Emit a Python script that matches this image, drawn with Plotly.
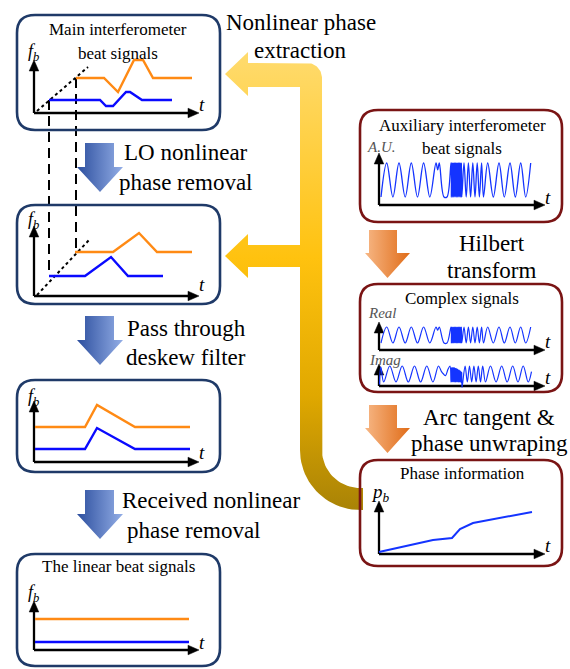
import numpy as np
import plotly.graph_objects as go

W, H = 570, 669
FONT = "Liberation Serif"

# ---------------- data (chart units) ----------------
# Main interferometer beat signals
main_orange_t = [42, 70, 84, 100, 109, 119, 158]
main_orange_f = [35, 35, 21, 53, 53, 35, 35]
main_blue_t = [15, 66, 72, 79, 92, 96, 108, 138]
main_blue_f = [13, 13, 7, 7, 21, 21, 13, 13]
main_lo_t = [3, 54]
main_lo_f = [2, 46]

# After LO nonlinear phase removal
lo_orange_t = [41, 79, 105, 123, 158]
lo_orange_f = [44, 44, 63, 44, 44]
lo_blue_t = [15, 51, 77, 94, 129]
lo_blue_f = [20, 20, 39, 20, 20]
lo_lo_t = [3, 56]
lo_lo_f = [1, 57]

# After deskew filter
deskew_t = [1, 51, 63, 101, 156]
deskew_orange_f = [35, 35, 57, 35, 35]
deskew_blue_f = [13, 13, 34, 13, 13]

# The linear beat signals
linear_t = [1, 155]
linear_orange_f = [31, 31]
linear_blue_f = [8, 8]

# Auxiliary interferometer beat signal (extrema, normalised amplitude)
aux_t = [2, 7.7, 13.9, 20, 26.2, 32.3, 38.5, 44.6, 50.8, 57, 58.7, 60.3, 65, 68,
         72.0, 72.4, 72.8, 73.2, 73.6, 74.0, 74.4, 74.8, 75.2, 75.6, 76.0, 76.4, 76.8, 77.2,
         77.6, 78.0, 78.4, 78.8, 79.2, 79.6, 80.0, 80.4, 80.8, 81.2, 81.6, 82.0, 82.4, 82.8,
         85.0, 87.2, 89.4, 91.6, 93.8, 96.0, 98.2, 100.4, 102.6, 104.5,
         108.7, 114.3, 120, 125.3, 131, 136.3, 141.7, 146.7, 151.7]
aux_v = [-1, 1, -1, 1, -1, 1, -1, 1, -1, 1, 0.6, 1, -1, -1,
         1, -1, 1, -1, 1, -1, 1, -1, 1, -1, 1, -1, 1, -1,
         1, -1, 1, -1, 1, -1, 1, -1, 1, -1, 1, -1, 1, -1,
         1, -1, 1, -1, 1, -1, 1, -1, 1, -1,
         1, -1, 1, -1, 1, -1, 1, -1, 1]

# Complex signal, imaginary part (extrema, normalised amplitude)
imag_t = [0.5, 1.8, 4.7, 10.8, 17, 23.2, 29.3, 35.5, 41.6, 47.8, 53.9, 59.5, 62.5, 64.5, 66.5, 69, 71,
          72.0, 72.4, 72.8, 73.2, 73.6, 74.0, 74.4, 74.8, 75.2, 75.6, 76.0, 76.4, 76.8, 77.2,
          77.6, 78.0, 78.4, 78.8, 79.2, 79.6, 80.0, 80.4, 80.8, 81.2, 81.6, 82.0, 82.4, 82.7, 83.0,
          86.1, 88.3, 90.5, 92.7, 94.9, 97.1, 99.3, 101.5, 103.7,
          106.5, 111.5, 117.1, 122.7, 128.2, 133.7, 139, 144.2, 149.2, 152.5]
imag_v = [-1.3, 0.9, -1, 1, -1, 1, -1, 1, -1, 1, -1, 1, 0.3, 0.0, -0.2, 0.6, 1.0,
          -1, 0.8, -1, 0.8, -1, 0.8, -1, 0.8, -1, 0.8, -1, 0.7, -1, 0.7,
          -1, 0.6, -1, 0.6, -1, 0.5, -1, 0.5, -1, 0.4, -1, 0.3, -1.1, 0.2, -1.7,
          1, -1, 1, -1, 1, -1, 1, -1, 1,
          -1, 1, -1, 1, -1, 1, -1, 1, -1, 0.3]

# Phase information
phase_t = [0, 54, 73, 81, 94, 153]
phase_p = [2, 14, 16, 25, 31, 42]

ORANGE = "#FF8A14"
BLUE = "#0A0AFF"
SIG = "#1434FF"
NAVY = "#1F3A68"
DRED = "#7A1414"

fig = go.Figure()
layout_axes = {}


def make_axes(n, ox, oy, x0, x1, y0, y1, sy=1.0, cy=0.0):
    layout_axes[f"xaxis{n}"] = dict(domain=[(ox + x0) / W, (ox + x1) / W], range=[x0, x1],
                                    visible=False, anchor=f"y{n}", fixedrange=True)
    layout_axes[f"yaxis{n}"] = dict(domain=[1 - (oy - y0) / H, 1 - (oy - y1) / H],
                                    range=[(y0 - cy) / sy, (y1 - cy) / sy],
                                    visible=False, anchor=f"x{n}", fixedrange=True)


def line(n, t, v, color, width=2.4, dash=None, shape="linear"):
    fig.add_trace(go.Scatter(x=t, y=v, mode="lines", xaxis=f"x{n}", yaxis=f"y{n}",
                             line=dict(color=color, width=width, dash=dash, shape=shape),
                             hoverinfo="skip", showlegend=False))


def poly(xs, ys, gtype, cscale, start, stop):
    fig.add_trace(go.Scatter(x=xs, y=ys, mode="lines", fill="toself", line=dict(width=0),
                             fillgradient=dict(type=gtype, colorscale=cscale, start=start, stop=stop),
                             hoverinfo="skip", showlegend=False, xaxis="x", yaxis="y"))


# ---------------- big yellow feedback arrow ----------------
def arc(cx, cy, r, a0, a1, n=24):
    a = np.radians(np.linspace(a0, a1, n))
    return list(cx + r * np.cos(a)), list(cy + r * np.sin(a))

yx, yy = [225, 248, 248], [74, 52, 63]
ax_, ay_ = arc(307, 78, 15, -90, 0)
yx += ax_; yy += ay_
ax_, ay_ = arc(360, 450, 38, 180, 90)
yx += ax_; yy += ay_
yx += [363, 363]; yy += [488, 510]
ax_, ay_ = arc(360, 450, 60, 90, 180)
yx += ax_; yy += ay_
yx += [300, 248, 248, 225, 248, 248, 300, 300, 248, 248, 225]
yy += [267, 267, 278, 256, 234, 245, 245, 87, 87, 96, 74]
poly(yx, yy, "vertical", [[0, "#FFDB6E"], [0.45, "#FFC20F"], [0.75, "#E0A800"], [1, "#A98306"]], 52, 510)

# ---------------- blue block arrows ----------------
for y0 in [143, 316, 490]:
    xs = [85, 114, 114, 123, 100, 77, 85, 85]
    ys = [y0, y0, y0 + 24, y0 + 24, y0 + 49, y0 + 24, y0 + 24, y0]
    poly(xs, ys, "horizontal", [[0, "#2C4E9E"], [1, "#93AEE6"]], 77, 123)

# ---------------- orange block arrows ----------------
for y0 in [230, 405]:
    xs = [369, 397, 397, 410, 387.5, 365, 369, 369]
    ys = [y0, y0, y0 + 23, y0 + 23, y0 + 48, y0 + 23, y0 + 23, y0]
    poly(xs, ys, "horizontal", [[0, "#F7B785"], [1, "#E06C18"]], 365, 410)

# ---------------- dashed guide lines between first two panels ----------------
for tt, f1, f2 in [(main_blue_t[0], main_blue_f[0], lo_blue_f[0]),
                   (main_orange_t[0], main_orange_f[0], lo_orange_f[0])]:
    fig.add_trace(go.Scatter(x=[34 + tt, 34 + tt], y=[113 - f1, 296 - f2], mode="lines",
                             line=dict(color="black", width=2, dash="10px,6px"),
                             hoverinfo="skip", showlegend=False, xaxis="x", yaxis="y"))

# ---------------- mini charts ----------------
make_axes(2, 34, 113, -2, 172, -4, 70)
line(2, main_lo_t, main_lo_f, "black", 2, "3px,3px")
line(2, main_orange_t, main_orange_f, ORANGE)
line(2, main_blue_t, main_blue_f, BLUE)

make_axes(3, 34, 296, -2, 172, -4, 75)
line(3, lo_lo_t, lo_lo_f, "black", 2, "3px,3px")
line(3, lo_orange_t, lo_orange_f, ORANGE)
line(3, lo_blue_t, lo_blue_f, BLUE)

make_axes(4, 34, 462, -2, 172, -4, 70)
line(4, deskew_t, deskew_orange_f, ORANGE)
line(4, deskew_t, deskew_blue_f, BLUE)

make_axes(5, 34, 650, -2, 172, -4, 50)
line(5, linear_t, linear_orange_f, ORANGE)
line(5, linear_t, linear_blue_f, BLUE)

make_axes(6, 379, 205, -2, 172, -4, 55, sy=17, cy=25)
line(6, aux_t, aux_v, SIG, 1.3, shape="spline")

make_axes(7, 379, 350, -2, 172, -4, 30, sy=8, cy=15)
line(7, aux_t, aux_v, SIG, 1.2, shape="spline")

make_axes(8, 379, 386, -2, 172, -4, 28, sy=8, cy=12)
line(8, imag_t, imag_v, SIG, 1.2, shape="spline")

make_axes(9, 379, 554, -2, 172, -4, 55)
line(9, phase_t, phase_p, SIG, 2)

# ---------------- axis arrows of the mini charts ----------------
axes_xy = [(34, 113, 199, 60), (34, 296, 199, 226), (34, 462, 199, 401), (34, 650, 199, 601),
           (379, 205, 545, 153), (379, 350, 545, 322), (379, 386, 545, 364), (379, 554, 545, 501)]
lx, ly, hx, hy = [], [], [], []
for ox, oy, xt, yt in axes_xy:
    lx += [ox, ox, None, ox, xt - 8, None]
    ly += [oy, yt + 8, None, oy, oy, None]
    hx += [ox, ox - 4.8, ox + 4.8, ox, None, xt, xt - 11, xt - 11, xt, None]
    hy += [yt, yt + 11, yt + 11, yt, None, oy, oy - 4.8, oy + 4.8, oy, None]
fig.add_trace(go.Scatter(x=lx, y=ly, mode="lines", line=dict(color="black", width=2.3),
                         hoverinfo="skip", showlegend=False, xaxis="x", yaxis="y"))
fig.add_trace(go.Scatter(x=hx, y=hy, mode="lines", fill="toself", fillcolor="black",
                         line=dict(color="black", width=0.5),
                         hoverinfo="skip", showlegend=False, xaxis="x", yaxis="y"))

# ---------------- boxes ----------------
def rrect(x0, y0, x1, y1, r):
    return (f"M{x0 + r},{y0} L{x1 - r},{y0} Q{x1},{y0} {x1},{y0 + r} L{x1},{y1 - r} "
            f"Q{x1},{y1} {x1 - r},{y1} L{x0 + r},{y1} Q{x0},{y1} {x0},{y1 - r} "
            f"L{x0},{y0 + r} Q{x0},{y0} {x0 + r},{y0} Z")

shapes = []
for (y0, y1) in [(15, 130), (205, 304), (380, 472), (554, 666)]:
    shapes.append(dict(type="path", path=rrect(17, y0, 220, y1, 18), xref="x", yref="y",
                       line=dict(color=NAVY, width=2.6), fillcolor="rgba(0,0,0,0)", layer="above"))
for (y0, y1) in [(110, 222), (284, 392), (460, 566)]:
    shapes.append(dict(type="path", path=rrect(360, y0, 562, y1, 18), xref="x", yref="y",
                       line=dict(color=DRED, width=2.6), fillcolor="rgba(0,0,0,0)", layer="above"))

# ---------------- annotations ----------------
ann = []


def txt(s, x, y, size, color="black", xanchor="center"):
    ann.append(dict(text=s, x=x, y=y, xref="x", yref="y", showarrow=False, xanchor=xanchor,
                    yanchor="middle", font=dict(family=FONT, size=size, color=color)))

big = 23
txt("Nonlinear phase", 301, 22, big)
txt("extraction", 300, 50, big)
txt("LO nonlinear", 186, 152, big)
txt("phase removal", 185, 182, big)
txt("Pass through", 186, 328, big)
txt("deskew filter", 186, 357, big)
txt("Received nonlinear", 120, 500, big, xanchor="left")
txt("phase removal", 125, 530, big, xanchor="left")
txt("Hilbert", 492, 243, big)
txt("transform", 492, 270, big)
txt("Arc tangent &amp;", 489, 417, big)
txt("phase unwraping", 489, 443, big)

ts = 17
txt("Main interferometer", 118, 29, ts)
txt("beat signals", 118, 53, ts)
txt("The linear beat signals", 118, 566, ts)
txt("Auxiliary interferometer", 462, 125, ts)
txt("beat signals", 462, 148, ts)
txt("Complex signals", 462, 298, ts)
txt("Phase information", 462, 473, ts)

for y in [52, 220, 397, 593]:
    txt("<i>f<sub>b</sub></i>", 33, y, 18)
for x, y in [(202, 104), (202, 284), (202, 452), (202, 642), (548, 197), (548, 341), (548, 377), (548, 545)]:
    txt("<i>t</i>", x, y, 19)
txt("<i>A.U.</i>", 381, 147, 15, "#555555")
txt("<i>Real</i>", 382, 313, 15, "#555555")
txt("<i>Imag</i>", 385, 360, 15, "#555555")
txt("<i>p<sub>b</sub></i>", 380, 493, 19)

fig.update_layout(
    width=W, height=H, margin=dict(l=0, r=0, t=0, b=0),
    paper_bgcolor="white", plot_bgcolor="rgba(0,0,0,0)", showlegend=False,
    xaxis=dict(domain=[0, 1], range=[0, W], visible=False, fixedrange=True),
    yaxis=dict(domain=[0, 1], range=[H, 0], visible=False, fixedrange=True),
    shapes=shapes, annotations=ann, **layout_axes,
)

fig.write_html("out.html", config={"displayModeBar": False},
               post_script="document.body.style.margin='0';document.body.style.padding='0';")
